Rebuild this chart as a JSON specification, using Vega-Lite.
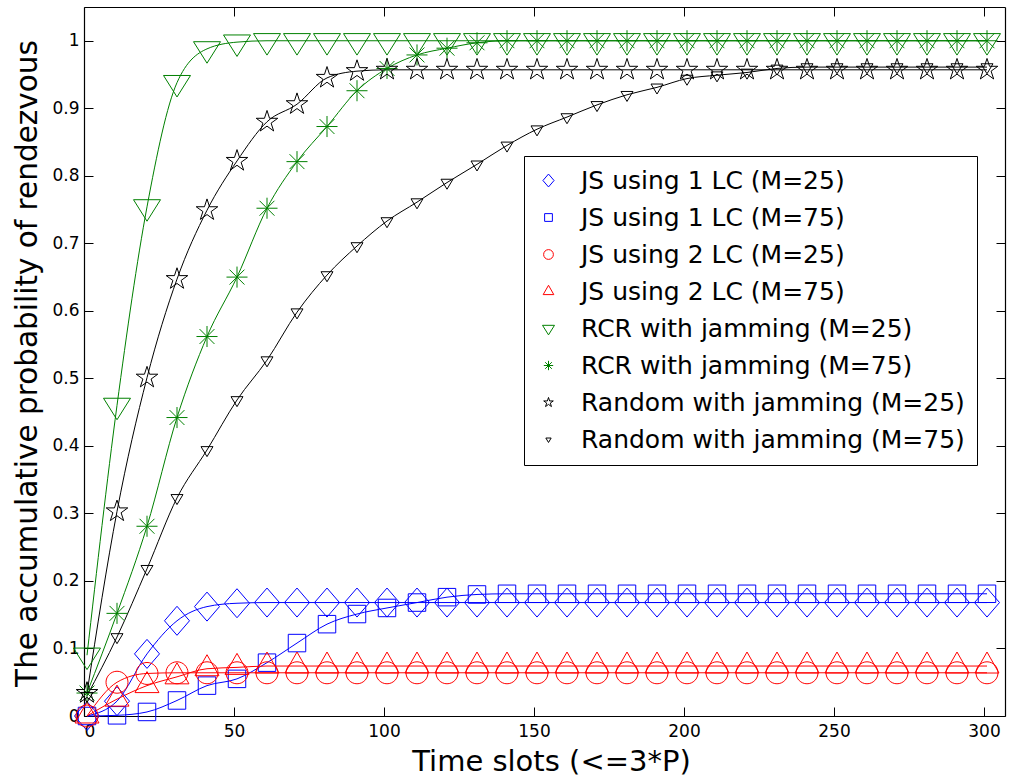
{
  "$schema": "https://vega.github.io/schema/vega-lite/v6.json",
  "width": 921,
  "height": 709,
  "autosize": {"type": "none"},
  "padding": {"left": 84, "top": 7, "right": 7, "bottom": 66},
  "background": "white",
  "config": {
    "font": "DejaVu Sans",
    "view": {"stroke": null},
    "axis": {"grid": false, "domainColor": "black", "domainWidth": 1.2, "tickColor": "black", "tickWidth": 1, "labelColor": "black", "labelFont": "DejaVu Sans", "labelFontSize": 17, "titleFont": "DejaVu Sans", "titleColor": "black", "titleFontWeight": "normal"},
    "legend": {"orient": "none", "legendX": 440, "legendY": 149, "labelFontSize": 25, "labelColor": "black", "labelFont": "DejaVu Sans", "strokeColor": "black", "fillColor": "white", "padding": 12, "rowPadding": 11, "labelOffset": 20, "symbolStrokeWidth": 1, "symbolSize": 576, "symbolFillColor": "transparent", "labelLimit": 600}
  },
  "data": {"values": [
    {"s":"JS using 1 LC (M=25)","x":1,"y":0.0},{"s":"JS using 1 LC (M=25)","x":11,"y":0.022},{"s":"JS using 1 LC (M=25)","x":21,"y":0.092},{"s":"JS using 1 LC (M=25)","x":31,"y":0.141},{"s":"JS using 1 LC (M=25)","x":41,"y":0.162},{"s":"JS using 1 LC (M=25)","x":51,"y":0.167},{"s":"JS using 1 LC (M=25)","x":61,"y":0.168},{"s":"JS using 1 LC (M=25)","x":71,"y":0.168},{"s":"JS using 1 LC (M=25)","x":81,"y":0.168},{"s":"JS using 1 LC (M=25)","x":91,"y":0.168},{"s":"JS using 1 LC (M=25)","x":101,"y":0.168},{"s":"JS using 1 LC (M=25)","x":111,"y":0.168},{"s":"JS using 1 LC (M=25)","x":121,"y":0.168},{"s":"JS using 1 LC (M=25)","x":131,"y":0.168},{"s":"JS using 1 LC (M=25)","x":141,"y":0.168},{"s":"JS using 1 LC (M=25)","x":151,"y":0.168},{"s":"JS using 1 LC (M=25)","x":161,"y":0.168},{"s":"JS using 1 LC (M=25)","x":171,"y":0.168},{"s":"JS using 1 LC (M=25)","x":181,"y":0.168},{"s":"JS using 1 LC (M=25)","x":191,"y":0.168},{"s":"JS using 1 LC (M=25)","x":201,"y":0.168},{"s":"JS using 1 LC (M=25)","x":211,"y":0.168},{"s":"JS using 1 LC (M=25)","x":221,"y":0.168},{"s":"JS using 1 LC (M=25)","x":231,"y":0.168},{"s":"JS using 1 LC (M=25)","x":241,"y":0.168},{"s":"JS using 1 LC (M=25)","x":251,"y":0.168},{"s":"JS using 1 LC (M=25)","x":261,"y":0.168},{"s":"JS using 1 LC (M=25)","x":271,"y":0.168},{"s":"JS using 1 LC (M=25)","x":281,"y":0.168},{"s":"JS using 1 LC (M=25)","x":291,"y":0.168},{"s":"JS using 1 LC (M=25)","x":301,"y":0.168},
    {"s":"JS using 1 LC (M=75)","x":1,"y":0.0},{"s":"JS using 1 LC (M=75)","x":11,"y":0.001},{"s":"JS using 1 LC (M=75)","x":21,"y":0.006},{"s":"JS using 1 LC (M=75)","x":31,"y":0.023},{"s":"JS using 1 LC (M=75)","x":41,"y":0.045},{"s":"JS using 1 LC (M=75)","x":51,"y":0.055},{"s":"JS using 1 LC (M=75)","x":61,"y":0.079},{"s":"JS using 1 LC (M=75)","x":71,"y":0.108},{"s":"JS using 1 LC (M=75)","x":81,"y":0.136},{"s":"JS using 1 LC (M=75)","x":91,"y":0.151},{"s":"JS using 1 LC (M=75)","x":101,"y":0.16},{"s":"JS using 1 LC (M=75)","x":111,"y":0.168},{"s":"JS using 1 LC (M=75)","x":121,"y":0.176},{"s":"JS using 1 LC (M=75)","x":131,"y":0.18},{"s":"JS using 1 LC (M=75)","x":141,"y":0.181},{"s":"JS using 1 LC (M=75)","x":151,"y":0.181},{"s":"JS using 1 LC (M=75)","x":161,"y":0.181},{"s":"JS using 1 LC (M=75)","x":171,"y":0.181},{"s":"JS using 1 LC (M=75)","x":181,"y":0.181},{"s":"JS using 1 LC (M=75)","x":191,"y":0.181},{"s":"JS using 1 LC (M=75)","x":201,"y":0.181},{"s":"JS using 1 LC (M=75)","x":211,"y":0.181},{"s":"JS using 1 LC (M=75)","x":221,"y":0.181},{"s":"JS using 1 LC (M=75)","x":231,"y":0.181},{"s":"JS using 1 LC (M=75)","x":241,"y":0.181},{"s":"JS using 1 LC (M=75)","x":251,"y":0.181},{"s":"JS using 1 LC (M=75)","x":261,"y":0.181},{"s":"JS using 1 LC (M=75)","x":271,"y":0.181},{"s":"JS using 1 LC (M=75)","x":281,"y":0.181},{"s":"JS using 1 LC (M=75)","x":291,"y":0.181},{"s":"JS using 1 LC (M=75)","x":301,"y":0.181},
    {"s":"JS using 2 LC (M=25)","x":1,"y":0.0},{"s":"JS using 2 LC (M=25)","x":11,"y":0.05},{"s":"JS using 2 LC (M=25)","x":21,"y":0.063},{"s":"JS using 2 LC (M=25)","x":31,"y":0.064},{"s":"JS using 2 LC (M=25)","x":41,"y":0.064},{"s":"JS using 2 LC (M=25)","x":51,"y":0.064},{"s":"JS using 2 LC (M=25)","x":61,"y":0.064},{"s":"JS using 2 LC (M=25)","x":71,"y":0.064},{"s":"JS using 2 LC (M=25)","x":81,"y":0.064},{"s":"JS using 2 LC (M=25)","x":91,"y":0.064},{"s":"JS using 2 LC (M=25)","x":101,"y":0.064},{"s":"JS using 2 LC (M=25)","x":111,"y":0.064},{"s":"JS using 2 LC (M=25)","x":121,"y":0.064},{"s":"JS using 2 LC (M=25)","x":131,"y":0.064},{"s":"JS using 2 LC (M=25)","x":141,"y":0.064},{"s":"JS using 2 LC (M=25)","x":151,"y":0.064},{"s":"JS using 2 LC (M=25)","x":161,"y":0.064},{"s":"JS using 2 LC (M=25)","x":171,"y":0.064},{"s":"JS using 2 LC (M=25)","x":181,"y":0.064},{"s":"JS using 2 LC (M=25)","x":191,"y":0.064},{"s":"JS using 2 LC (M=25)","x":201,"y":0.064},{"s":"JS using 2 LC (M=25)","x":211,"y":0.064},{"s":"JS using 2 LC (M=25)","x":221,"y":0.064},{"s":"JS using 2 LC (M=25)","x":231,"y":0.064},{"s":"JS using 2 LC (M=25)","x":241,"y":0.064},{"s":"JS using 2 LC (M=25)","x":251,"y":0.064},{"s":"JS using 2 LC (M=25)","x":261,"y":0.064},{"s":"JS using 2 LC (M=25)","x":271,"y":0.064},{"s":"JS using 2 LC (M=25)","x":281,"y":0.064},{"s":"JS using 2 LC (M=25)","x":291,"y":0.064},{"s":"JS using 2 LC (M=25)","x":301,"y":0.064},
    {"s":"JS using 2 LC (M=75)","x":1,"y":0.0},{"s":"JS using 2 LC (M=75)","x":11,"y":0.025},{"s":"JS using 2 LC (M=75)","x":21,"y":0.045},{"s":"JS using 2 LC (M=75)","x":31,"y":0.058},{"s":"JS using 2 LC (M=75)","x":41,"y":0.07},{"s":"JS using 2 LC (M=75)","x":51,"y":0.072},{"s":"JS using 2 LC (M=75)","x":61,"y":0.074},{"s":"JS using 2 LC (M=75)","x":71,"y":0.074},{"s":"JS using 2 LC (M=75)","x":81,"y":0.074},{"s":"JS using 2 LC (M=75)","x":91,"y":0.074},{"s":"JS using 2 LC (M=75)","x":101,"y":0.074},{"s":"JS using 2 LC (M=75)","x":111,"y":0.074},{"s":"JS using 2 LC (M=75)","x":121,"y":0.074},{"s":"JS using 2 LC (M=75)","x":131,"y":0.074},{"s":"JS using 2 LC (M=75)","x":141,"y":0.074},{"s":"JS using 2 LC (M=75)","x":151,"y":0.074},{"s":"JS using 2 LC (M=75)","x":161,"y":0.074},{"s":"JS using 2 LC (M=75)","x":171,"y":0.074},{"s":"JS using 2 LC (M=75)","x":181,"y":0.074},{"s":"JS using 2 LC (M=75)","x":191,"y":0.074},{"s":"JS using 2 LC (M=75)","x":201,"y":0.074},{"s":"JS using 2 LC (M=75)","x":211,"y":0.074},{"s":"JS using 2 LC (M=75)","x":221,"y":0.074},{"s":"JS using 2 LC (M=75)","x":231,"y":0.074},{"s":"JS using 2 LC (M=75)","x":241,"y":0.074},{"s":"JS using 2 LC (M=75)","x":251,"y":0.074},{"s":"JS using 2 LC (M=75)","x":261,"y":0.074},{"s":"JS using 2 LC (M=75)","x":271,"y":0.074},{"s":"JS using 2 LC (M=75)","x":281,"y":0.074},{"s":"JS using 2 LC (M=75)","x":291,"y":0.074},{"s":"JS using 2 LC (M=75)","x":301,"y":0.074},
    {"s":"RCR with  jamming (M=25)","x":1,"y":0.09},{"s":"RCR with  jamming (M=25)","x":11,"y":0.46},{"s":"RCR with  jamming (M=25)","x":21,"y":0.754},{"s":"RCR with  jamming (M=25)","x":31,"y":0.938},{"s":"RCR with  jamming (M=25)","x":41,"y":0.988},{"s":"RCR with  jamming (M=25)","x":51,"y":0.998},{"s":"RCR with  jamming (M=25)","x":61,"y":1.0},{"s":"RCR with  jamming (M=25)","x":71,"y":1.0},{"s":"RCR with  jamming (M=25)","x":81,"y":1.0},{"s":"RCR with  jamming (M=25)","x":91,"y":1.0},{"s":"RCR with  jamming (M=25)","x":101,"y":1.0},{"s":"RCR with  jamming (M=25)","x":111,"y":1.0},{"s":"RCR with  jamming (M=25)","x":121,"y":1.0},{"s":"RCR with  jamming (M=25)","x":131,"y":1.0},{"s":"RCR with  jamming (M=25)","x":141,"y":1.0},{"s":"RCR with  jamming (M=25)","x":151,"y":1.0},{"s":"RCR with  jamming (M=25)","x":161,"y":1.0},{"s":"RCR with  jamming (M=25)","x":171,"y":1.0},{"s":"RCR with  jamming (M=25)","x":181,"y":1.0},{"s":"RCR with  jamming (M=25)","x":191,"y":1.0},{"s":"RCR with  jamming (M=25)","x":201,"y":1.0},{"s":"RCR with  jamming (M=25)","x":211,"y":1.0},{"s":"RCR with  jamming (M=25)","x":221,"y":1.0},{"s":"RCR with  jamming (M=25)","x":231,"y":1.0},{"s":"RCR with  jamming (M=25)","x":241,"y":1.0},{"s":"RCR with  jamming (M=25)","x":251,"y":1.0},{"s":"RCR with  jamming (M=25)","x":261,"y":1.0},{"s":"RCR with  jamming (M=25)","x":271,"y":1.0},{"s":"RCR with  jamming (M=25)","x":281,"y":1.0},{"s":"RCR with  jamming (M=25)","x":291,"y":1.0},{"s":"RCR with  jamming (M=25)","x":301,"y":1.0},
    {"s":"RCR with jamming (M=75)","x":1,"y":0.034},{"s":"RCR with jamming (M=75)","x":11,"y":0.152},{"s":"RCR with jamming (M=75)","x":21,"y":0.281},{"s":"RCR with jamming (M=75)","x":31,"y":0.442},{"s":"RCR with jamming (M=75)","x":41,"y":0.562},{"s":"RCR with jamming (M=75)","x":51,"y":0.65},{"s":"RCR with jamming (M=75)","x":61,"y":0.752},{"s":"RCR with jamming (M=75)","x":71,"y":0.821},{"s":"RCR with jamming (M=75)","x":81,"y":0.873},{"s":"RCR with jamming (M=75)","x":91,"y":0.926},{"s":"RCR with jamming (M=75)","x":101,"y":0.959},{"s":"RCR with jamming (M=75)","x":111,"y":0.979},{"s":"RCR with jamming (M=75)","x":121,"y":0.989},{"s":"RCR with jamming (M=75)","x":131,"y":0.997},{"s":"RCR with jamming (M=75)","x":141,"y":1.0},{"s":"RCR with jamming (M=75)","x":151,"y":1.0},{"s":"RCR with jamming (M=75)","x":161,"y":1.0},{"s":"RCR with jamming (M=75)","x":171,"y":1.0},{"s":"RCR with jamming (M=75)","x":181,"y":1.0},{"s":"RCR with jamming (M=75)","x":191,"y":1.0},{"s":"RCR with jamming (M=75)","x":201,"y":1.0},{"s":"RCR with jamming (M=75)","x":211,"y":1.0},{"s":"RCR with jamming (M=75)","x":221,"y":1.0},{"s":"RCR with jamming (M=75)","x":231,"y":1.0},{"s":"RCR with jamming (M=75)","x":241,"y":1.0},{"s":"RCR with jamming (M=75)","x":251,"y":1.0},{"s":"RCR with jamming (M=75)","x":261,"y":1.0},{"s":"RCR with jamming (M=75)","x":271,"y":1.0},{"s":"RCR with jamming (M=75)","x":281,"y":1.0},{"s":"RCR with jamming (M=75)","x":291,"y":1.0},{"s":"RCR with jamming (M=75)","x":301,"y":1.0},
    {"s":"Random with jamming (M=25)","x":1,"y":0.034},{"s":"Random with jamming (M=25)","x":11,"y":0.303},{"s":"Random with jamming (M=25)","x":21,"y":0.501},{"s":"Random with jamming (M=25)","x":31,"y":0.647},{"s":"Random with jamming (M=25)","x":41,"y":0.749},{"s":"Random with jamming (M=25)","x":51,"y":0.822},{"s":"Random with jamming (M=25)","x":61,"y":0.88},{"s":"Random with jamming (M=25)","x":71,"y":0.906},{"s":"Random with jamming (M=25)","x":81,"y":0.945},{"s":"Random with jamming (M=25)","x":91,"y":0.955},{"s":"Random with jamming (M=25)","x":101,"y":0.957},{"s":"Random with jamming (M=25)","x":111,"y":0.957},{"s":"Random with jamming (M=25)","x":121,"y":0.957},{"s":"Random with jamming (M=25)","x":131,"y":0.957},{"s":"Random with jamming (M=25)","x":141,"y":0.957},{"s":"Random with jamming (M=25)","x":151,"y":0.957},{"s":"Random with jamming (M=25)","x":161,"y":0.957},{"s":"Random with jamming (M=25)","x":171,"y":0.957},{"s":"Random with jamming (M=25)","x":181,"y":0.957},{"s":"Random with jamming (M=25)","x":191,"y":0.957},{"s":"Random with jamming (M=25)","x":201,"y":0.957},{"s":"Random with jamming (M=25)","x":211,"y":0.957},{"s":"Random with jamming (M=25)","x":221,"y":0.957},{"s":"Random with jamming (M=25)","x":231,"y":0.957},{"s":"Random with jamming (M=25)","x":241,"y":0.957},{"s":"Random with jamming (M=25)","x":251,"y":0.957},{"s":"Random with jamming (M=25)","x":261,"y":0.957},{"s":"Random with jamming (M=25)","x":271,"y":0.957},{"s":"Random with jamming (M=25)","x":281,"y":0.957},{"s":"Random with jamming (M=25)","x":291,"y":0.957},{"s":"Random with jamming (M=25)","x":301,"y":0.957},
    {"s":"Random with jamming (M=75)","x":1,"y":0.03},{"s":"Random with jamming (M=75)","x":11,"y":0.117},{"s":"Random with jamming (M=75)","x":21,"y":0.218},{"s":"Random with jamming (M=75)","x":31,"y":0.323},{"s":"Random with jamming (M=75)","x":41,"y":0.394},{"s":"Random with jamming (M=75)","x":51,"y":0.468},{"s":"Random with jamming (M=75)","x":61,"y":0.527},{"s":"Random with jamming (M=75)","x":71,"y":0.598},{"s":"Random with jamming (M=75)","x":81,"y":0.653},{"s":"Random with jamming (M=75)","x":91,"y":0.696},{"s":"Random with jamming (M=75)","x":101,"y":0.733},{"s":"Random with jamming (M=75)","x":111,"y":0.761},{"s":"Random with jamming (M=75)","x":121,"y":0.79},{"s":"Random with jamming (M=75)","x":131,"y":0.817},{"s":"Random with jamming (M=75)","x":141,"y":0.845},{"s":"Random with jamming (M=75)","x":151,"y":0.869},{"s":"Random with jamming (M=75)","x":161,"y":0.887},{"s":"Random with jamming (M=75)","x":171,"y":0.905},{"s":"Random with jamming (M=75)","x":181,"y":0.92},{"s":"Random with jamming (M=75)","x":191,"y":0.931},{"s":"Random with jamming (M=75)","x":201,"y":0.944},{"s":"Random with jamming (M=75)","x":211,"y":0.949},{"s":"Random with jamming (M=75)","x":221,"y":0.953},{"s":"Random with jamming (M=75)","x":231,"y":0.959},{"s":"Random with jamming (M=75)","x":241,"y":0.961},{"s":"Random with jamming (M=75)","x":251,"y":0.961},{"s":"Random with jamming (M=75)","x":261,"y":0.961},{"s":"Random with jamming (M=75)","x":271,"y":0.961},{"s":"Random with jamming (M=75)","x":281,"y":0.961},{"s":"Random with jamming (M=75)","x":291,"y":0.961},{"s":"Random with jamming (M=75)","x":301,"y":0.961}
  ]},
  "resolve": {"axis": {"x": "independent", "y": "independent"}},
  "layer": [
    {
      "mark": {"type": "line", "strokeWidth": 1, "interpolate": "monotone"},
      "encoding": {
        "x": {"field": "x", "type": "quantitative", "scale": {"domain": [0, 307], "nice": false, "zero": false}, "axis": {"orient": "top", "values": [0, 50, 100, 150, 200, 250, 300], "labels": false, "title": null, "tickSize": -9}},
        "y": {"field": "y", "type": "quantitative", "scale": {"domain": [0, 1.05], "nice": false}, "axis": {"orient": "right", "values": [0, 0.1, 0.2, 0.3, 0.4, 0.5, 0.6, 0.7, 0.8, 0.9, 1], "labels": false, "title": null, "tickSize": -9}},
        "color": {"field": "s", "type": "nominal", "legend": {"title": null, "encode": {"symbols": {"update": {"shape": {"signal": "['M-2.25,0H2.25M0,-1.208L1.042,0L0,1.208L-1.042,0Z', 'M-2.25,0H2.25M-0.729,-0.729H0.729V0.729H-0.729Z', 'M-2.25,0H2.25M0.916,0A0.916,0.916,0,1,1,-0.916,0A0.916,0.916,0,1,1,0.916,0Z', 'M-2.25,0H2.25M0,-1.168L1,0.583L-1,0.583Z', 'M-2.25,0H2.25M-1.125,-0.596L1.125,-0.596L0,1.195Z', 'M-2.25,0H2.25M0,-0.878V0.878M-0.621,-0.621L0.621,0.621M-0.621,0.621L0.621,-0.621', 'M-2.25,0H2.25M0,-0.945L0.2115,-0.2912L0.8987,-0.292L0.3425,0.1112L0.5555,0.7646L0,0.36L-0.5555,0.7646L-0.3425,0.1112L-0.8987,-0.292L-0.2115,-0.2912Z', 'M-2.25,0H2.25M-0.5,-0.277L0.5,-0.277L0,0.556Z'][datum.index]"}}}}}, "scale": {"domain": ["JS using 1 LC (M=25)", "JS using 1 LC (M=75)", "JS using 2 LC (M=25)", "JS using 2 LC (M=75)", "RCR with  jamming (M=25)", "RCR with jamming (M=75)", "Random with jamming (M=25)", "Random with jamming (M=75)"], "range": ["#0000ff", "#0000ff", "#ff0000", "#ff0000", "#008000", "#008000", "#000000", "#000000"]}}
      }
    },
    {
      "mark": {"type": "point", "filled": false, "strokeWidth": 1, "size": 2916, "opacity": 1},
      "encoding": {
        "x": {"field": "x", "type": "quantitative", "axis": {"orient": "bottom", "values": [0, 50, 100, 150, 200, 250, 300], "tickSize": -9, "labelPadding": 16, "title": "Time slots (<=3*P)", "titleFontSize": 29, "titleX": 467, "titleY": 54, "titleBaseline": "alphabetic", "titleAlign": "center", "titleAnchor": null}},
        "y": {"field": "y", "type": "quantitative", "axis": {"orient": "left", "values": [0, 0.1, 0.2, 0.3, 0.4, 0.5, 0.6, 0.7, 0.8, 0.9, 1], "format": ".1~f", "tickSize": -9, "labelPadding": 14, "title": "The accumulative probability of rendezvous", "titleFontSize": 29.5, "titleAngle": -90, "titleX": -48, "titleY": 356, "titleBaseline": "alphabetic", "titleAlign": "center"}},
        "color": {"field": "s", "type": "nominal"},
        "shape": {"field": "s", "type": "nominal", "scale": {"domain": ["JS using 1 LC (M=25)", "JS using 1 LC (M=75)", "JS using 2 LC (M=25)", "JS using 2 LC (M=75)", "RCR with  jamming (M=25)", "RCR with jamming (M=75)", "Random with jamming (M=25)", "Random with jamming (M=75)"], "range": [
          "M0,-0.537L0.463,0L0,0.537L-0.463,0Z",
          "M-0.324,-0.324H0.324V0.324H-0.324Z",
          "M0.407,0A0.407,0.407,0,1,1,-0.407,0A0.407,0.407,0,1,1,0.407,0Z",
          "M0,-0.519L0.444,0.259L-0.444,0.259Z",
          "M-0.5,-0.265L0.5,-0.265L0,0.531Z",
          "M0,-0.39V0.39M-0.39,0H0.39M-0.276,-0.276L0.276,0.276M-0.276,0.276L0.276,-0.276",
          "M0,-0.42L0.094,-0.1294L0.3994,-0.1298L0.1522,0.0494L0.2469,0.3398L0,0.16L-0.2469,0.3398L-0.1522,0.0494L-0.3994,-0.1298L-0.094,-0.1294Z",
          "M-0.222,-0.123L0.222,-0.123L0,0.247Z"
        ]}}
      }
    }
  ]
}
